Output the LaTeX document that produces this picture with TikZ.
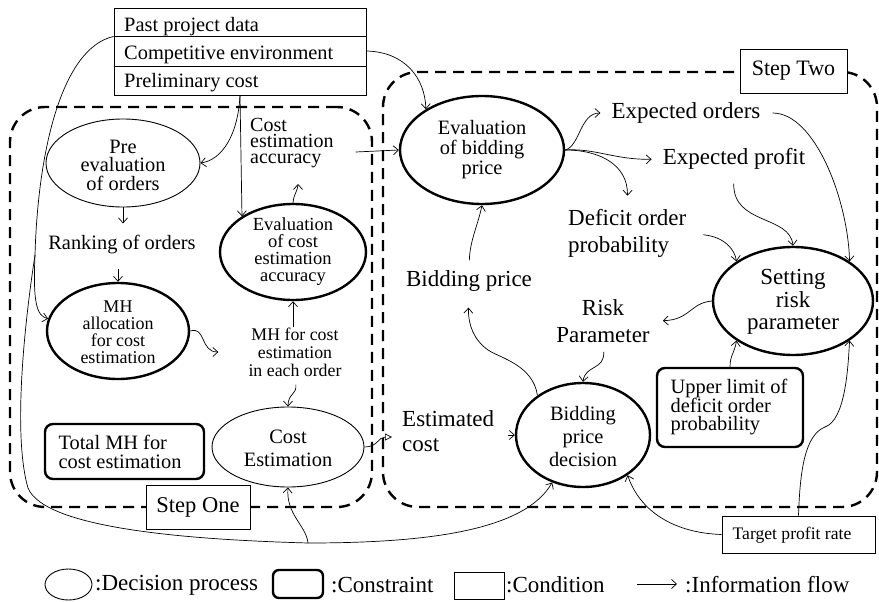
\documentclass[tikz,border=0pt]{standalone}
\usepackage{fontspec}
\setmainfont{Liberation Serif}
\usetikzlibrary{shapes.geometric,arrows.meta}
\begin{document}
\begin{tikzpicture}[x=1pt,y=-1pt,
  proc/.style={ellipse,draw,line width=2.4pt,inner sep=0pt},
  procthin/.style={ellipse,draw,line width=0.9pt,inner sep=0pt},
  cons/.style={rectangle,draw,rounded corners=8pt,line width=2.4pt,inner sep=0pt},
  cond/.style={rectangle,draw,line width=0.9pt,inner sep=0pt},
  lbl/.style={inner sep=0pt,align=center},
  stepbox/.style={rectangle,draw,line width=2.4pt,dash pattern=on 11pt off 7pt,rounded corners=35pt,inner sep=0pt},
  flow/.style={line width=0.7pt,-{Straight Barb[length=5pt,width=9pt]}},
  fS/.style={font=\fontsize{17.6}{18}\selectfont},
  fM/.style={font=\fontsize{20.4}{18}\selectfont},
  fL/.style={font=\fontsize{23}{27}\selectfont},
]
\useasboundingbox (0,0) rectangle (879,602);

% step containers
\node[stepbox,minimum width=362,minimum height=400] (s1) at (191,307) {};
\node[stepbox,minimum width=494,minimum height=435] (s2) at (630,289.5) {};

% condition table
\node[cond,minimum width=252,minimum height=28] (pp) at (240,22) {};
\node[cond,minimum width=252,minimum height=30] (ce) at (240,51) {};
\node[cond,minimum width=252,minimum height=29] (pc) at (240,80.5) {};
\node[fM,inner sep=0pt,anchor=base west] (ppt) at (124,32) {Past project data};
\node[fM,inner sep=0pt,anchor=base west] (cet) at (124,60) {Competitive environment};
\node[fM,inner sep=0pt,anchor=base west] (pct) at (124,88) {Preliminary cost};

% decision processes
\node[procthin,minimum width=154,minimum height=88] (pre) at (123,163) {};
\node[lbl,font=\fontsize{20.4}{18.5}\selectfont] (pret) at (123,165) {Pre\\evaluation\\of orders};
\node[proc,minimum width=142,minimum height=96] (mha) at (118,331) {};
\node[lbl,font=\fontsize{18}{17}\selectfont] (mhat) at (118,332) {MH\\allocation\\for cost\\estimation};
\node[proc,minimum width=146,minimum height=96] (ecea) at (293,252) {};
\node[lbl,font=\fontsize{18.5}{17}\selectfont] (eceat) at (293,252) {Evaluation\\of cost\\estimation\\accuracy};
\node[procthin,minimum width=152,minimum height=80] (cest) at (288,447) {};
\node[lbl,font=\fontsize{20.4}{23}\selectfont] (cestt) at (288,448) {Cost\\Estimation};
\node[proc,minimum width=164,minimum height=108] (ebp) at (482,150) {};
\node[lbl,font=\fontsize{20.4}{20}\selectfont] (ebpt) at (482,150) {Evaluation\\of bidding\\price};
\node[proc,minimum width=160,minimum height=108] (srp) at (793,301) {};
\node[lbl,font=\fontsize{23}{22.5}\selectfont] (srpt) at (793,302) {Setting\\risk\\parameter};
\node[proc,minimum width=134,minimum height=104] (bpd) at (583,435) {};
\node[lbl,font=\fontsize{20.4}{23}\selectfont] (bpdt) at (583,437) {Bidding\\price\\decision};

% constraints
\node[cons,minimum width=159,minimum height=55] (tmh) at (124.5,451.5) {};
\node[lbl,align=left,font=\fontsize{20.4}{19}\selectfont] (tmht) at (120,452) {Total MH for\\cost estimation};
\node[cons,minimum width=146,minimum height=79] (ulp) at (730,407.5) {};
\node[lbl,align=left,font=\fontsize{20.4}{18}\selectfont] (ulpt) at (729,407) {Upper limit of\\deficit order\\probability};

% condition
\node[cond,minimum width=153,minimum height=37] (tpr) at (798.5,534.5) {};
\node[lbl,fS] (tprt) at (792,535) {Target profit rate};

% information labels
\node[lbl,align=left,font=\fontsize{20}{16}\selectfont,anchor=west] (cea) at (250,143) {Cost\\estimation\\accuracy};
\node[lbl,fM] (rank) at (122,245) {Ranking of orders};
\node[lbl,font=\fontsize{17.8}{18}\selectfont] (mhce) at (295,352) {MH for cost\\estimation\\in each order};
\node[lbl,fL] (eo) at (686,113) {Expected orders};
\node[lbl,fL] (ep) at (734,159) {Expected profit};
\node[lbl,fL,align=left,anchor=west] (dop) at (568,233) {Deficit order\\probability};
\node[lbl,fL] (bp) at (469,281) {Bidding price};
\node[lbl,fL] (rp) at (603,321) {Risk\\Parameter};
\node[lbl,align=left,font=\fontsize{23}{25}\selectfont,anchor=west] (ec) at (402,431) {Estimated\\cost};

% connectors
\coordinate (split) at (35,255);
\coordinate (junc) at (308,543);
\draw[line width=0.7pt] (pp.south west) .. controls (62,48) and (38,150) .. (split);
\draw[flow] (split) .. controls (33,300) and (36,316) .. (mha.170);
\draw[line width=0.7pt] (split) .. controls (22,340) and (14,440) .. (28,488)
   .. controls (45,530) and (200,540) .. (junc);
\draw[flow] (junc) .. controls (430,543) and (525,530) .. (bpd.237);
\draw[flow] (junc) .. controls (306,525) and (286,515) .. (cest.south);
\draw[flow] (ce.east) .. controls (405,52) and (425,78) .. (ebp.144);
\draw[flow] (pc.south) .. controls (238,135) and (222,160) .. (pre.east);
\draw[flow] (pc.south) -- (ecea.145);
\draw[flow,shorten >=12pt] (pre.south) -- (pre.south |- rank.north);
\draw[flow,shorten <=14pt] (rank.south -| mha.north) -- (mha.north);
\draw[flow] (mha.east) .. controls (206,326) and (200,352) .. ([xshift=-30pt]mhce.west);
\draw[flow] (mhce.north -| ecea.south) -- (ecea.south);
\draw[flow,shorten >=16pt] (ecea.north) .. controls (293,196) and (298,190) .. (cea.south -| 298,0);
\draw[flow] ([xshift=22pt,yshift=-9pt]cea.east) -- (ebp.west);
\draw[flow,shorten <=8pt] (mhce.south) .. controls (297,395) and (288,393) .. (cest.north);
\draw[line width=0.7pt,-{Triangle[open,length=7pt,width=7pt]},shorten >=10pt] (cest.east) .. controls (378,447) and (378,437) .. ([yshift=-6pt]ec.west);
\draw[flow,shorten <=14pt] (ec.east |- bpd.west) -- (bpd.west);
\draw[flow,shorten >=16pt] (bpd.139) .. controls (533,365) and (500,358) .. (488,350)
   .. controls (474,340) and (468,325) .. (bp.south);
\draw[flow,shorten <=10pt] (bp.north) .. controls (470,240) and (478,225) .. (ebp.south);
\draw[flow,shorten >=11pt] (ebp.east) .. controls (580,146) and (580,113) .. (eo.west);
\draw[flow,shorten >=11pt] (ebp.east) .. controls (595,148) and (615,160) .. (ep.west);
\draw[flow,shorten >=13pt] (ebp.east) .. controls (600,150) and (628,165) .. (dop.north);
\draw[flow,shorten <=12pt] (eo.east) .. controls (815,113) and (848,200) .. (srp.35);
\draw[flow,shorten <=14pt] (ep.south) .. controls (733,225) and (790,215) .. (srp.north);
\draw[flow,shorten <=17pt] (dop.east) .. controls (725,237) and (735,250) .. (srp.145);
\draw[flow,shorten >=13pt] (srp.west) .. controls (690,303) and (690,320) .. (rp.east);
\draw[flow,shorten <=9pt] (rp.south) .. controls (605,370) and (585,365) .. (bpd.north);
\draw[flow] (ulp.north) .. controls (730,355) and (735,352) .. (srp.215);
\draw[flow] (tpr.north) .. controls (800,470) and (805,435) .. (825,427)
   .. controls (845,420) and (848,370) .. (srp.325);
\draw[flow] (tpr.west) .. controls (675,533) and (640,512) .. (bpd.318);

% step labels
\node[cond,fill=white,minimum width=104,minimum height=44,font=\fontsize{22.5}{27}\selectfont] (s1l) at (198,507) {Step One};
\node[cond,fill=white,minimum width=107,minimum height=44,font=\fontsize{22}{27}\selectfont] (s2l) at (793.5,71) {Step Two};

% legend
\node[procthin,minimum width=47,minimum height=31] (lg1) at (68.5,584.5) {};
\node[lbl,fL,anchor=west] (lg1t) at (95,585) {:Decision process};
\node[cons,rounded corners=6pt,minimum width=50,minimum height=28] (lg2) at (298,584) {};
\node[lbl,fL,anchor=west] (lg2t) at (331,585) {:Constraint};
\node[cond,minimum width=50,minimum height=27] (lg3) at (479,585.5) {};
\node[lbl,fL,anchor=west] (lg3t) at (506,585) {:Condition};
\coordinate (la1) at (637,584);
\coordinate (la2) at (677,584);
\draw[flow] (la1) -- (la2);
\node[lbl,fL,anchor=west] (lg4t) at (685,585) {:Information flow};
\end{tikzpicture}
\end{document}
